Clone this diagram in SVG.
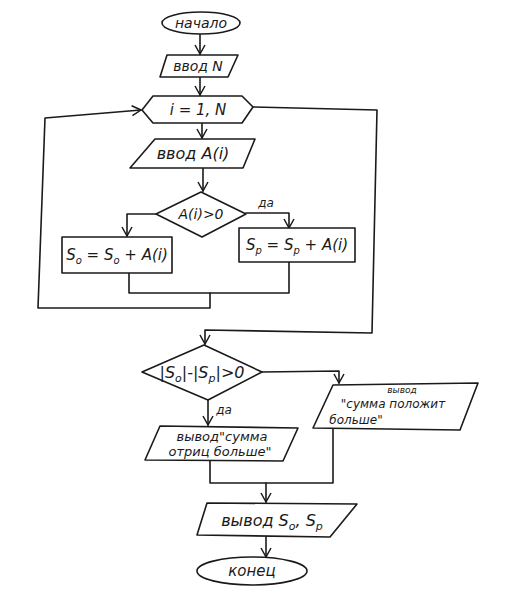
<svg xmlns="http://www.w3.org/2000/svg" width="525" height="600" viewBox="0 0 525 600">
<style>
.s{fill:none;stroke:#1a1a1a;stroke-width:1.6;stroke-linejoin:round;stroke-linecap:round}
.b{fill:#fff;stroke:#1a1a1a;stroke-width:1.6;stroke-linejoin:round}
.t{font-family:"DejaVu Sans","Liberation Sans",sans-serif;font-style:italic;fill:#1a1a1a;text-anchor:middle}
</style>
<defs>
<marker id="ar" markerWidth="12" markerHeight="12" refX="10" refY="6" orient="auto" markerUnits="userSpaceOnUse">
<path d="M1,1 L10,6 L1,11" fill="none" stroke="#1a1a1a" stroke-width="1.5"/>
</marker>
</defs>
<rect width="525" height="600" fill="#fff"/>
<g id="connectors" class="s">
<path d="M200,33 V54" marker-end="url(#ar)"/>
<path d="M200,77 V95" marker-end="url(#ar)"/>
<path d="M202,123 V138" marker-end="url(#ar)"/>
<path d="M203,168 V191" marker-end="url(#ar)"/>
<path d="M246,213 H289 V228" marker-end="url(#ar)"/>
<path d="M156,214 H127 V236" marker-end="url(#ar)"/>
<path d="M129,273 V293 H289 V262"/>
<path d="M210,293 V308 H38 L45,118 L141,110" marker-end="url(#ar)"/>
<path d="M253,107 L377,110 L372,333 L205,330 V344" marker-end="url(#ar)"/>
<path d="M262,372 L339,371 V383" marker-end="url(#ar)"/>
<path d="M208,400 V425" marker-end="url(#ar)"/>
<path d="M210,461 V483 H333 V428"/>
<path d="M266,483 V502" marker-end="url(#ar)"/>
<path d="M266,537 V557" marker-end="url(#ar)"/>
</g>
<g id="start">
<ellipse class="b" cx="201" cy="23" rx="39" ry="11"/>
<text class="t" x="201" y="28" font-size="14">начало</text>
</g>
<g id="inputN">
<polygon class="b" points="167,55 238,55 228,77 160,77"/>
<text class="t" x="198" y="71" font-size="14">ввод N</text>
</g>
<g id="loop">
<polygon class="b" points="142,110 153,96 242,96 253,107 242,123 153,123"/>
<text class="t" x="198" y="115" font-size="15">i = 1, N</text>
</g>
<g id="inputA">
<polygon class="b" points="155,139 255,139 243,168 130,168"/>
<text class="t" x="193" y="159" font-size="16">ввод A(i)</text>
</g>
<g id="cond1">
<polygon class="b" points="156,214 201,192 246,214 202,237"/>
<text class="t" x="201" y="219" font-size="14">A(i)&gt;0</text>
<text class="t" x="266" y="207" font-size="12">да</text>
</g>
<g id="sumNeg">
<rect class="b" x="62" y="237" width="110" height="36"/>
<text class="t" x="117" y="260" font-size="15">S<tspan dy="4" font-size="10">o</tspan><tspan dy="-4"> = S</tspan><tspan dy="4" font-size="10">o</tspan><tspan dy="-4"> + A(i)</tspan></text>
</g>
<g id="sumPos">
<rect class="b" x="239" y="228" width="116" height="34"/>
<text class="t" x="297" y="250" font-size="15">S<tspan dy="4" font-size="10">p</tspan><tspan dy="-4"> = S</tspan><tspan dy="4" font-size="10">p</tspan><tspan dy="-4"> + A(i)</tspan></text>
</g>
<g id="cond2">
<polygon class="b" points="142,372 204,345 262,372 208,400"/>
<text class="t" x="202" y="378" font-size="16">|S<tspan dy="4" font-size="11">o</tspan><tspan dy="-4">|-|S</tspan><tspan dy="4" font-size="11">p</tspan><tspan dy="-4">|&gt;0</tspan></text>
<text class="t" x="224" y="414" font-size="12">да</text>
</g>
<g id="outNeg">
<polygon class="b" points="160,426 298,428 283,461 145,460"/>
<text class="t" x="222" y="441" font-size="13">вывод"сумма</text>
<text class="t" x="220" y="456" font-size="13">отриц больше"</text>
</g>
<g id="outPos">
<polygon class="b" points="333,385 478,383 460,430 313,428"/>
<text class="t" x="402" y="393" font-size="9">вывод</text>
<text class="t" x="393" y="408" font-size="12">"сумма положит</text>
<text class="t" x="356" y="424" font-size="12">больше"</text>
</g>
<g id="outSums">
<polygon class="b" points="207,503 357,504 330,537 197,535"/>
<text class="t" x="272" y="526" font-size="16">вывод  S<tspan dy="4" font-size="11">o</tspan><tspan dy="-4">, S</tspan><tspan dy="4" font-size="11">p</tspan></text>
</g>
<g id="end">
<ellipse class="b" cx="252" cy="571" rx="55" ry="14"/>
<text class="t" x="252" y="576" font-size="15">конец</text>
</g>
</svg>
